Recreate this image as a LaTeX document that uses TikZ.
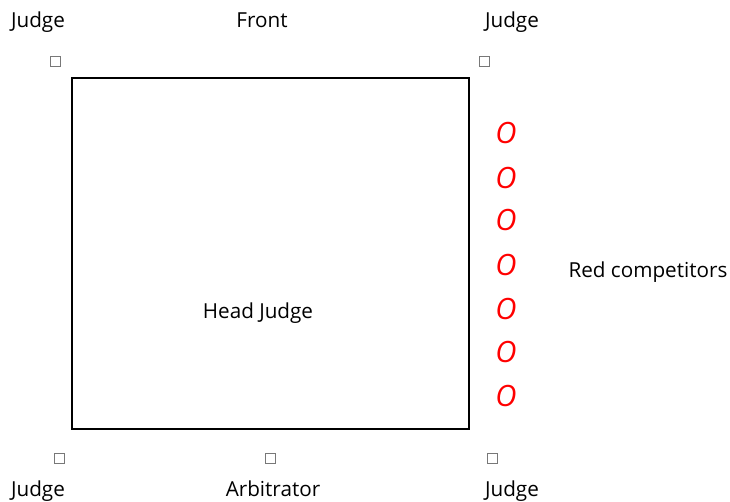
\documentclass[tikz,border=0pt]{standalone}
\usepackage{fontspec}
\setmainfont{Open Sans}
\usepackage{xcolor}
\usepackage{tikz}
\usetikzlibrary{positioning}
\definecolor{seatgray}{RGB}{120,120,120}

\begin{document}
\begin{tikzpicture}[
    x=0.75pt, y=-0.75pt,
    label/.style={inner sep=0pt, text height=1.6ex, text depth=0.45ex, font=\fontsize{15.5}{18}\selectfont},
    seat/.style={draw=seatgray, line width=0.5pt, minimum size=7.5pt, inner sep=0pt},
    competitor/.style={inner sep=0pt, text=red, font=\fontsize{22}{25}\selectfont\itshape}
]
\useasboundingbox (0,0) rectangle (730,501);

\node[label] (judgeTL) at (38,23) {Judge};
\node[label] (front) at (262,23) {Front};
\node[label] (judgeTR) at (512,23) {Judge};

\node[seat] (seatTL) at (55,61) {};
\node[seat] (seatTR) at (484,61) {};

\draw[line width=1.5pt] (72,78) rectangle (469,429);
\node[label] (head) at (258,314) {Head Judge};

\node[competitor] (red1) at (506,133) {O};
\node[competitor] (red2) at (506,178) {O};
\node[competitor] (red3) at (506,220) {O};
\node[competitor] (red4) at (506,265) {O};
\node[competitor] (red5) at (506,309) {O};
\node[competitor] (red6) at (506,352) {O};
\node[competitor] (red7) at (506,396) {O};
\node[label] (redlabel) at (648,273) {Red competitors};

\node[seat] (seatBL) at (59,458) {};
\node[seat] (seatBM) at (270,458) {};
\node[seat] (seatBR) at (492,458) {};

\node[label] (judgeBL) at (38,492) {Judge};
\node[label] (arbitrator) at (273,492) {Arbitrator};
\node[label] (judgeBR) at (512,492) {Judge};
\end{tikzpicture}
\end{document}
